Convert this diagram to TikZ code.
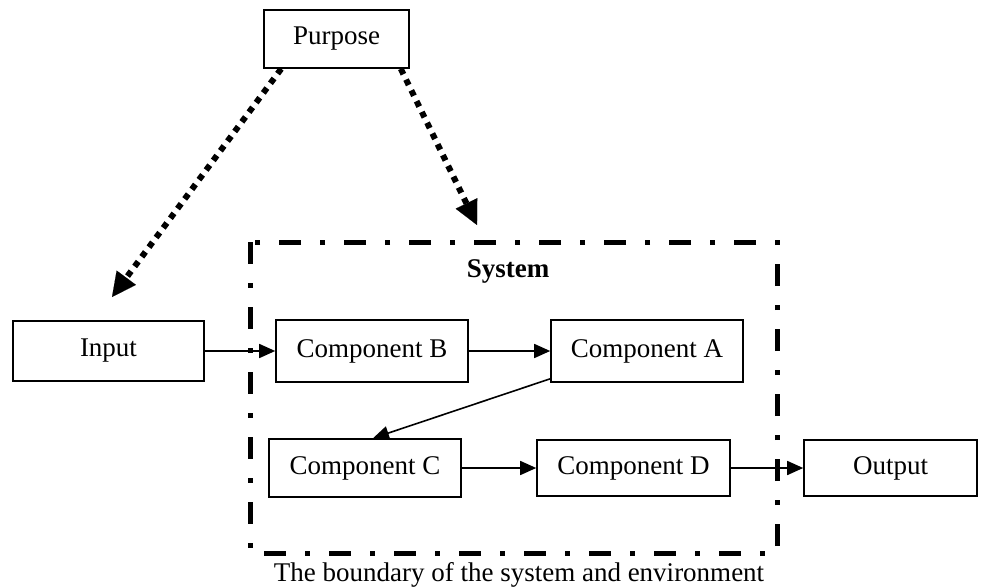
\documentclass[tikz,border=0pt]{standalone}
\usepackage{fontspec}
\setmainfont{Liberation Serif}
\usetikzlibrary{arrows.meta,calc}
\begin{document}
\begin{tikzpicture}[x=1pt,y=-1pt,
  every node/.style={font=\fontsize{27}{32}\selectfont},
  box/.style={draw, line width=1.6pt, inner sep=0pt, anchor=center},
  flow/.style={line width=1.6pt, -{Triangle[length=16pt,width=14pt]}},
  dotflow/.style={line width=6pt, dash pattern=on 6pt off 6pt,
    -{Triangle[length=24pt,width=24pt,line width=0.1pt]}},
  boundarybox/.style={line width=5pt,
    dash pattern=on 22pt off 19pt on 5pt off 19pt}]
  \useasboundingbox (0,0) rectangle (987,588);

  % system boundary
  \coordinate (bnw) at (250,242);
  \coordinate (bse) at (777,553);
  \draw[boundarybox] (bnw) -- (bnw |- bse) -- (bse) -- (bse |- bnw) -- cycle;
  \node[font=\fontsize{27}{32}\selectfont\bfseries] (syslabel) at (508,271) {System};
  \node (caption) at (519,575) {The boundary of the system and environment};

  % boxes
  \node[box, minimum width=145pt, minimum height=58pt] (purpose) at (336.5,39) {Purpose};
  \node[box, minimum width=191pt, minimum height=60pt] (input) at (108.5,351) {Input};
  \node[box, minimum width=192pt, minimum height=62pt] (compB) at (372,351) {Component B};
  \node[box, minimum width=192pt, minimum height=62pt] (compA) at (647,351) {Component A};
  \node[box, minimum width=192pt, minimum height=58pt] (compC) at (365,468) {Component C};
  \node[box, minimum width=193pt, minimum height=56pt] (compD) at (633.5,468) {Component D};
  \node[box, minimum width=173pt, minimum height=56pt] (output) at (890.5,468) {Output};

  % targets of the purpose arrows
  \coordinate (inTarget) at (112,297);
  \coordinate (sysTarget) at (477,225);
  \draw[dotflow] ($(purpose.south west)+(18,0)$) -- (inTarget);
  \draw[dotflow] ($(purpose.south east)+(-9,0)$) -- (sysTarget);

  % flow between the components
  \draw[flow] (input.east) -- (compB.west);
  \draw[flow] (compB.east) -- (compA.west);
  \draw[flow] ($(compA.south west)+(0,-4)$) -- ($(compC.north)+(8,0)$);
  \draw[flow] (compC.east) -- (compD.west);
  \draw[flow] (compD.east) -- (output.west);
\end{tikzpicture}
\end{document}
